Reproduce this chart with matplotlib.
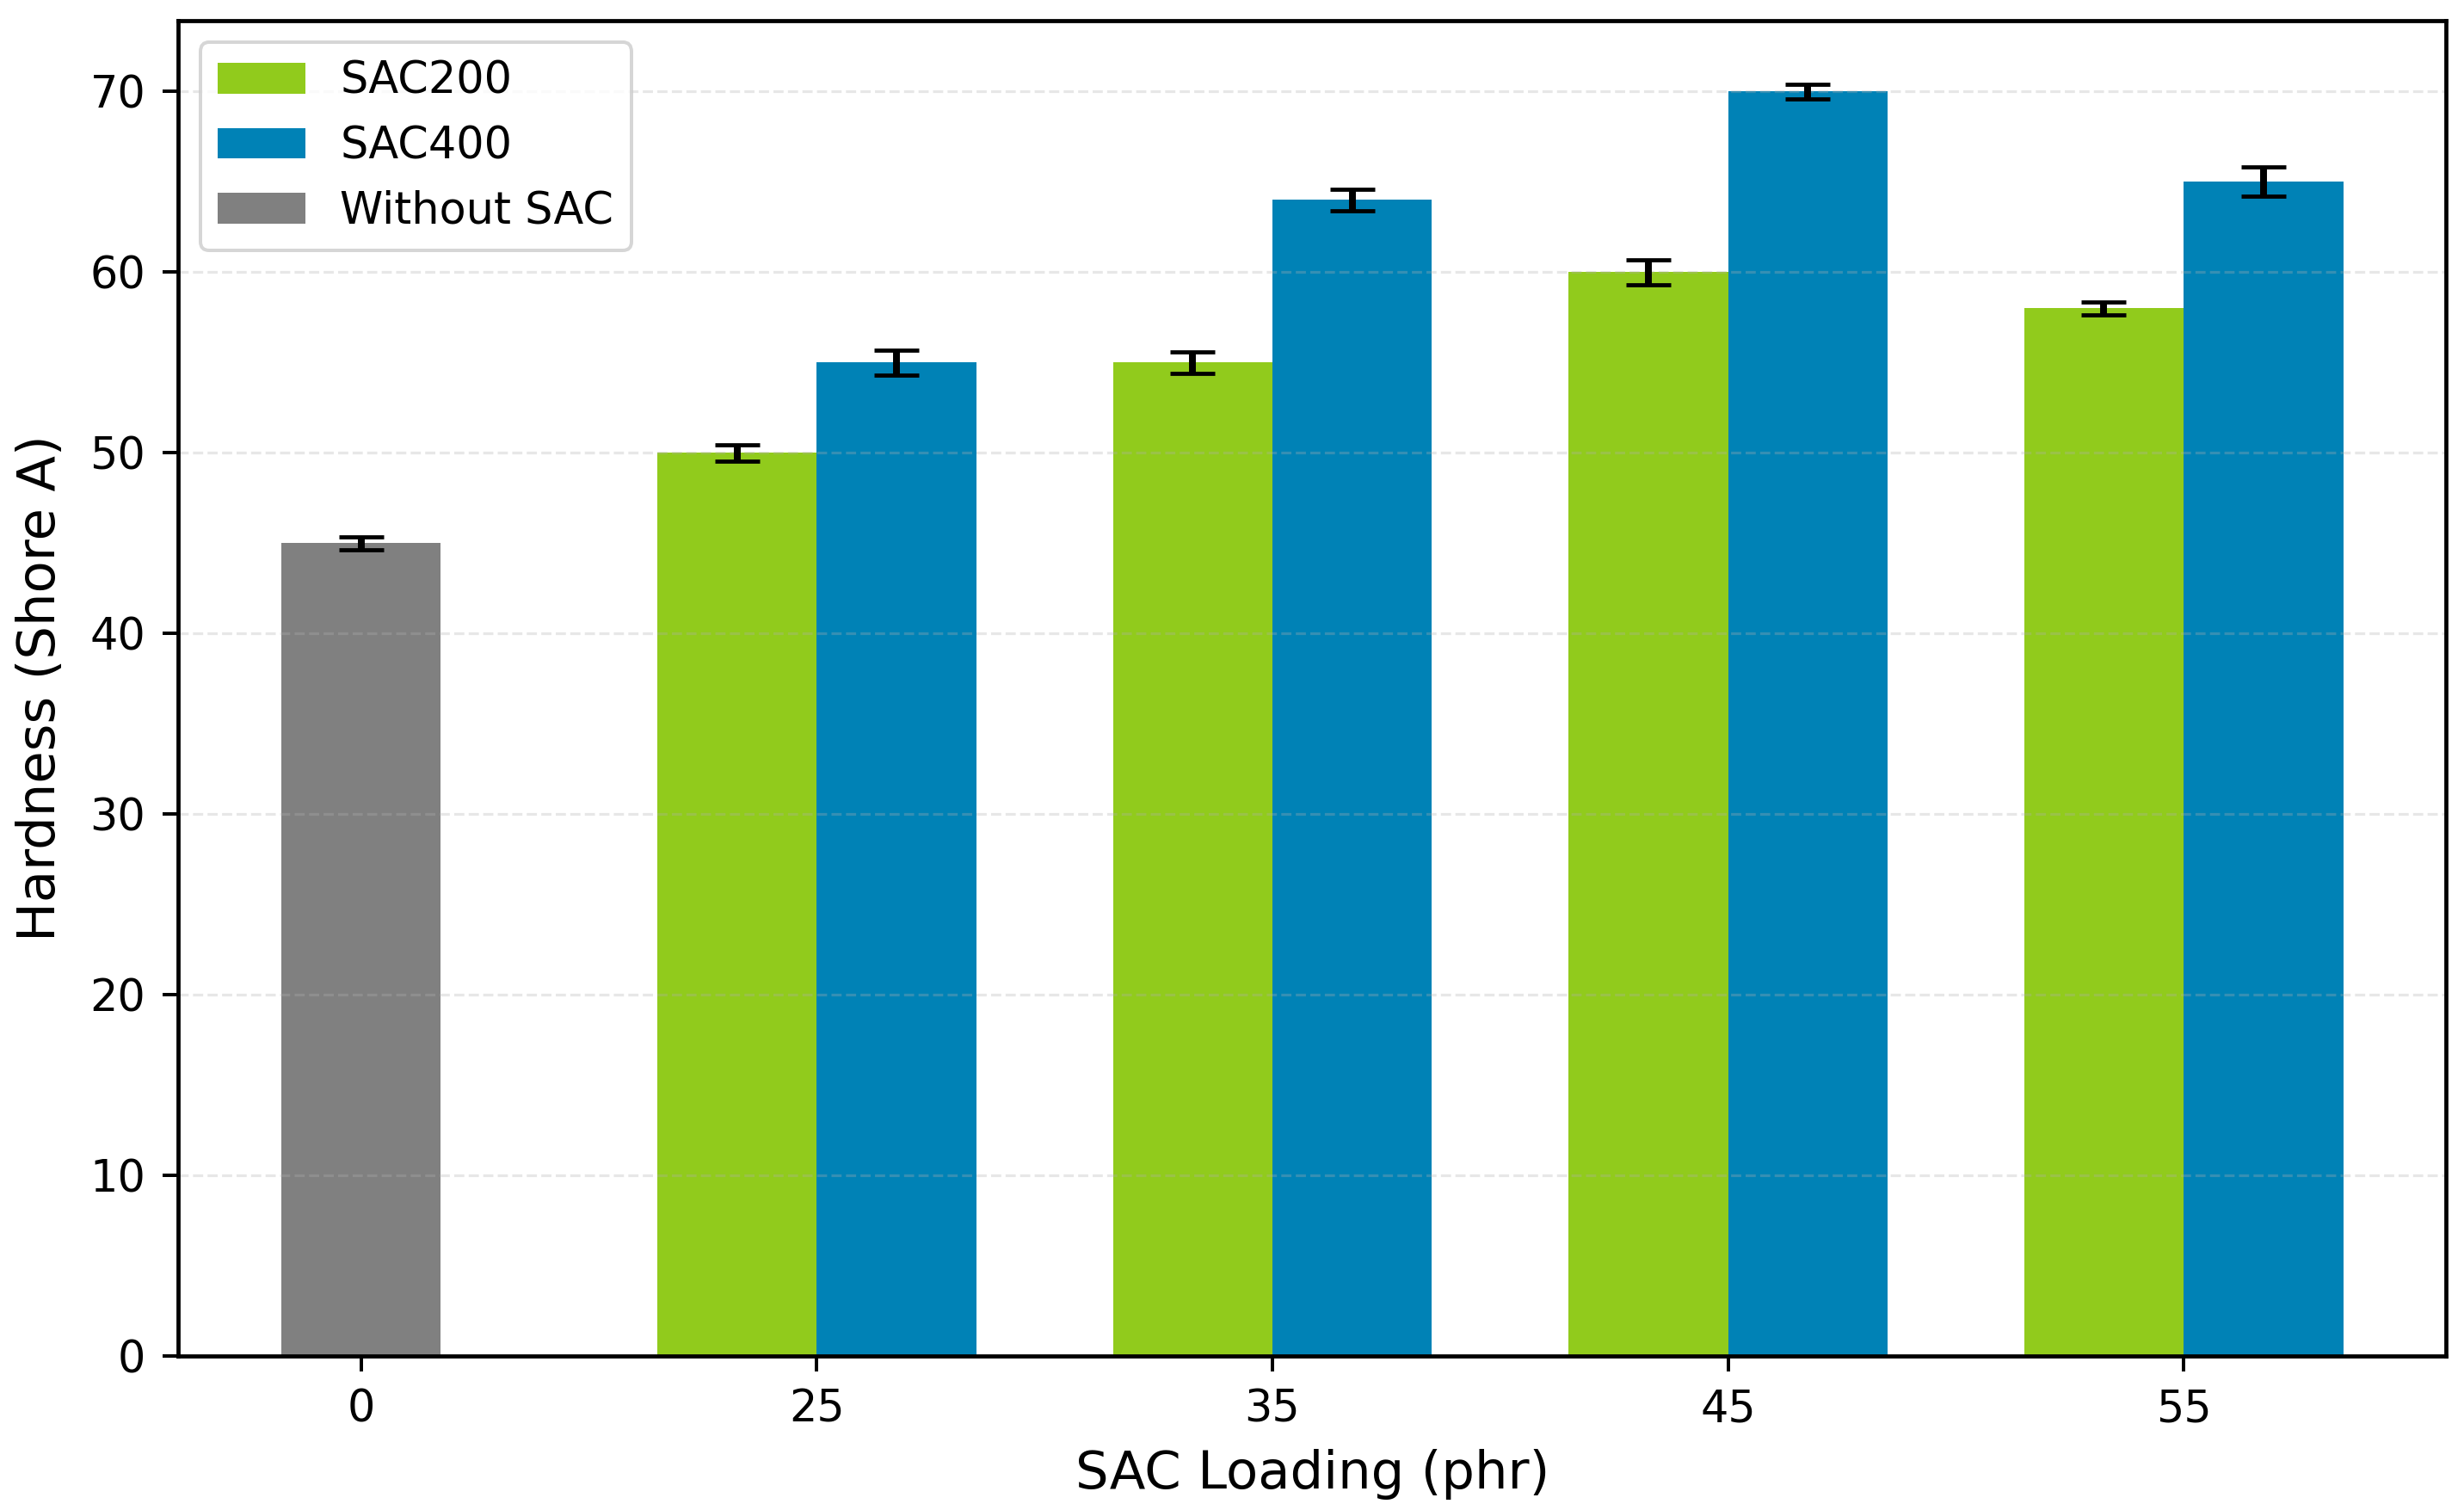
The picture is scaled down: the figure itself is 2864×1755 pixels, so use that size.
# -*- coding: utf-8 -*-
import numpy as np
import matplotlib
matplotlib.use("Agg")
import matplotlib.pyplot as plt

# 数据
loadings = ["0", "25", "35", "45", "55"]
sac200_mean = [50, 55, 60, 58]
sac200_err = [0.45, 0.6, 0.7, 0.35]
sac400_mean = [55, 64, 70, 65]
sac400_err = [0.7, 0.6, 0.4, 0.8]
without_mean = [45]
without_err = [0.35]

green = "#91CB1C"
blue = "#0082B6"
gray = "#808080"

fig = plt.figure(figsize=(10, 6.128), dpi=286.4)
ax = fig.add_axes([0.0723, 0.102, 0.9205, 0.8843])

x = np.arange(len(loadings))
width = 0.35
err_kw = dict(elinewidth=2, capthick=1.2, ecolor="black")

ax.bar(x[1:] - width / 2, sac200_mean, width, yerr=sac200_err, capsize=6.5,
       color=green, label="SAC200", error_kw=err_kw)
ax.bar(x[1:] + width / 2, sac400_mean, width, yerr=sac400_err, capsize=6.5,
       color=blue, label="SAC400", error_kw=err_kw)
ax.bar(x[:1], without_mean, width, yerr=without_err, capsize=6.5,
       color=gray, label="Without SAC", error_kw=err_kw)

ax.set_xticks(x)
ax.set_xticklabels(loadings)
ax.set_yticks(range(0, 71, 10))
ax.tick_params(labelsize=12.8, length=4.5, width=1, pad=5)
ax.set_xlabel("SAC Loading (phr)", fontsize=15.3, labelpad=5)
ax.set_ylabel("Hardness (Shore A)", fontsize=15.3, labelpad=7)
ax.grid(axis="y", linestyle="--", alpha=0.3)
for s in ax.spines.values():
    s.set_linewidth(1.2)

ax.legend(loc="upper left", fontsize=12.8)

plt.savefig("out.png", dpi=286.4)
